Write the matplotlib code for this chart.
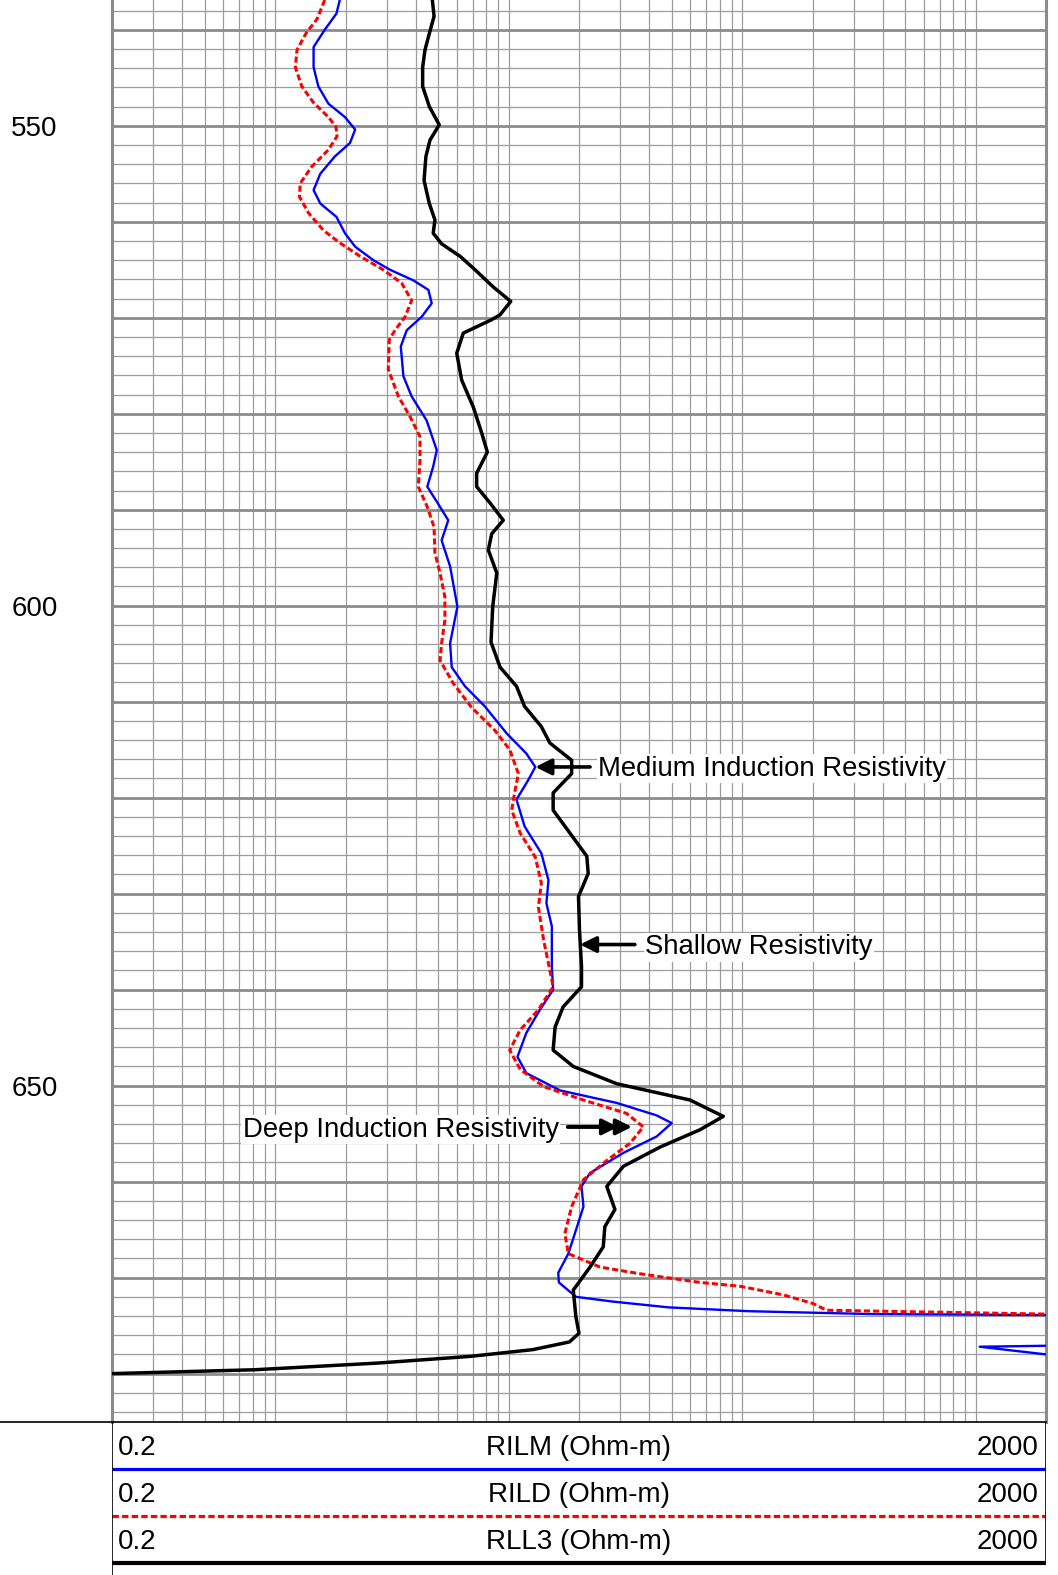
import numpy as np
import matplotlib
matplotlib.use("Agg")
import matplotlib.pyplot as plt
from matplotlib.lines import Line2D
from matplotlib.ticker import MultipleLocator, FuncFormatter, LogLocator, NullFormatter

plt.rcParams["font.family"] = ["Liberation Sans", "DejaVu Sans"]

# --- curves: depth and resistivity (Ohm-m) ---
rll3_depth = [536.9, 538.6, 540.4, 542.1, 543.9, 545.9, 548.0, 549.9, 551.5, 553.2,
              555.7, 558.1, 559.8, 561.2, 562.3, 563.6, 565.0, 566.8, 568.3, 569.7,
              570.2, 571.6, 573.7, 576.5, 579.3, 582.0, 584.0, 586.2, 587.6, 589.3,
              591.1, 592.5, 594.2, 596.6, 600.1, 603.8, 606.4, 608.4, 610.5, 612.6,
              614.3, 616.1, 617.5, 619.5, 621.3, 623.7, 626.1, 627.9, 630.3, 633.8,
              637.6, 639.7, 641.8, 643.9, 646.3, 648.0, 649.8, 651.5, 653.2, 654.6,
              656.4, 658.4, 660.5, 662.9, 664.7, 666.8, 668.9, 671.3, 674.1, 675.8,
              676.7, 677.5, 678.2, 678.9, 679.6, 680.0]
rll3 = [4.71, 4.79, 4.57, 4.38, 4.28, 4.28, 4.57, 5.04, 4.60, 4.42,
        4.34, 4.57, 4.83, 4.75, 5.16, 6.19, 7.17, 8.59, 10.2, 9.18,
        8.46, 6.39, 5.99, 6.29, 7.05, 7.66, 8.10, 7.29, 7.29, 8.32,
        9.48, 8.46, 8.18, 8.89, 8.54, 8.40, 9.18, 10.8, 11.7, 13.8,
        15.0, 18.6, 18.6, 15.5, 15.5, 18.3, 21.6, 21.9, 19.9, 20.1,
        20.5, 20.5, 17.1, 15.8, 15.5, 18.9, 29.0, 59.8, 83.0, 65.9,
        44.5, 31.0, 26.3, 28.5, 25.8, 25.4, 22.3, 18.9, 19.4, 20.0,
        18.2, 12.7, 6.88, 2.76, 0.815, 0.2]

rilm_depth = [536.9, 538.3, 540.0, 541.8, 543.9, 545.9, 547.7, 549.1, 550.4, 551.8,
              553.2, 555.0, 556.7, 558.1, 559.5, 561.2, 562.6, 564.0, 565.0, 566.1,
              567.1, 568.5, 569.9, 571.3, 573.0, 576.1, 578.2, 580.7, 583.8, 585.5,
              587.6, 589.7, 591.1, 593.2, 595.9, 600.1, 603.9, 606.4, 608.4, 610.5,
              613.3, 615.4, 616.8, 618.2, 620.2, 623.0, 625.8, 628.6, 631.0, 633.4,
              637.6, 640.0, 642.1, 644.5, 647.0, 648.7, 650.5, 651.8, 653.1, 653.9,
              655.3, 657.0, 659.1, 660.5, 662.6, 665.4, 667.5, 669.5, 670.5, 672.0,
              672.5, 673.1, 673.5, 673.8, 673.9]
rilm = [1.89, 1.83, 1.63, 1.46, 1.46, 1.53, 1.69, 1.99, 2.20, 2.09,
        1.80, 1.56, 1.46, 1.56, 1.83, 1.99, 2.20, 2.63, 3.10, 3.90,
        4.53, 4.68, 4.24, 3.66, 3.45, 3.54, 3.84, 4.45, 4.92, 4.75,
        4.48, 5.08, 5.51, 5.16, 5.61, 6.03, 5.61, 5.70, 6.50, 7.91,
        9.80, 11.9, 13.0, 12.1, 10.8, 11.7, 13.8, 14.8, 14.5, 15.3,
        15.3, 15.5, 13.6, 11.9, 10.9, 11.9, 16.6, 29.0, 43.0, 49.9,
        43.0, 31.0, 22.3, 20.5, 20.9, 19.2, 18.0, 16.3, 16.4, 19.4,
        28.0, 48.4, 107, 362, 2000]
# short off-scale excursion at the right edge
rilm_tail_depth = [677.1, 677.2, 678.0]
rilm_tail = [2000, 1040, 2000]

rild_depth = [536.9, 538.9, 540.3, 542.1, 543.9, 545.9, 547.6, 549.1, 550.1, 551.1,
              552.5, 554.3, 556.0, 557.4, 559.1, 560.9, 562.2, 563.6, 565.0, 566.4,
              568.2, 569.9, 571.3, 572.3, 575.4, 578.2, 580.3, 582.4, 584.8, 587.6,
              589.7, 591.8, 594.5, 596.6, 599.1, 601.5, 603.9, 605.7, 608.1, 610.6,
              613.0, 615.0, 617.5, 619.5, 621.3, 623.7, 626.2, 628.9, 631.4, 634.8,
              637.6, 639.7, 642.1, 644.2, 646.3, 648.3, 650.1, 651.5, 652.9, 654.3,
              656.0, 657.8, 659.8, 662.6, 665.4, 667.5, 668.9, 669.6, 670.5, 670.9,
              671.8, 672.7, 673.4, 673.8]
rild = [1.63, 1.51, 1.36, 1.24, 1.22, 1.30, 1.46, 1.69, 1.82, 1.84,
        1.69, 1.43, 1.28, 1.27, 1.39, 1.61, 1.89, 2.31, 2.90, 3.48,
        3.84, 3.60, 3.26, 3.08, 3.05, 3.37, 3.78, 4.17, 4.17, 4.10,
        4.48, 4.79, 4.83, 5.08, 5.33, 5.33, 5.16, 5.08, 5.79, 6.94,
        8.73, 10.1, 11.0, 10.6, 10.3, 11.2, 13.0, 13.8, 13.4, 14.1,
        14.9, 15.5, 13.4, 11.2, 10.1, 11.2, 14.1, 20.9, 32.0, 37.7,
        33.1, 26.3, 20.9, 18.6, 17.4, 18.0, 24.6, 36.5, 65.9, 97.9,
        150, 201, 230, 2000]

depth_labels = [550, 600, 650]
header_rows = [("0.2", "RILM (Ohm-m)", "2000"),
               ("0.2", "RILD (Ohm-m)", "2000"),
               ("0.2", "RLL3 (Ohm-m)", "2000")]

W, H = 1058, 1575
fig = plt.figure(figsize=(W / 100, H / 100), dpi=100)
x0, x1 = 112, 1046
track_bot = 1421.6

ax = fig.add_axes([x0 / W, 1 - track_bot / H, (x1 - x0) / W, track_bot / H])
ax.set_xscale("log")
ax.set_xlim(0.2, 2000)
ax.set_ylim(685, 536.9)

ax.xaxis.set_major_locator(LogLocator(base=10, numticks=10))
ax.xaxis.set_minor_locator(LogLocator(base=10, subs=np.arange(2, 10), numticks=20))
ax.xaxis.set_major_formatter(NullFormatter())
ax.xaxis.set_minor_formatter(NullFormatter())
ax.yaxis.set_major_locator(MultipleLocator(10))
ax.yaxis.set_minor_locator(MultipleLocator(2))
ax.yaxis.set_major_formatter(FuncFormatter(lambda v, p: f"{v:.0f}" if round(v) in depth_labels else ""))
ax.tick_params(axis="both", which="both", length=0)
ax.tick_params(axis="y", labelsize=20, pad=39)

ax.grid(True, axis="x", which="both", color="#9c9c9c", lw=0.9)
ax.grid(True, axis="y", which="minor", color="#9c9c9c", lw=0.9)
ax.grid(True, axis="y", which="major", color="#8c8c8c", lw=2.0)
ax.set_axisbelow(True)

for s in ("left", "right"):
    ax.spines[s].set_color("#8c8c8c")
    ax.spines[s].set_linewidth(2.2)
ax.spines["top"].set_visible(False)
ax.spines["bottom"].set_visible(False)

ax.plot(rilm, rilm_depth, color="#0000ff", lw=1.7, zorder=3, solid_joinstyle="round")
ax.plot(rilm_tail, rilm_tail_depth, color="#0000ff", lw=1.7, zorder=3)
ax.plot(rild, rild_depth, color="#ff0000", lw=2.2, ls=(0, (2.0, 1.0)), zorder=4)
ax.plot(rll3, rll3_depth, color="black", lw=2.5, zorder=5, solid_joinstyle="round")

arrow = dict(arrowstyle="-|>", color="black", lw=2.6, mutation_scale=24, shrinkA=0, shrinkB=0)
box = dict(facecolor="white", edgecolor="none", pad=1)
ax.annotate("", xy=(13.0, 616.8), xytext=(22.3, 616.8), arrowprops=arrow, zorder=6)
ax.text(24.1, 617.0, "Medium Induction Resistivity", fontsize=19.8, ha="left", va="center",
        bbox=box, zorder=6)
ax.annotate("", xy=(20.2, 635.3), xytext=(34.7, 635.3), arrowprops=arrow, zorder=6)
ax.text(38.4, 635.6, "Shallow Resistivity", fontsize=19.8, ha="left", va="center",
        bbox=box, zorder=6)
ax.annotate("", xy=(33.7, 654.3), xytext=(17.9, 654.3), arrowprops=arrow, zorder=6)
ax.annotate("", xy=(29.4, 654.3), xytext=(17.9, 654.3), arrowprops=arrow, zorder=6)
ax.text(16.4, 654.6, "Deep Induction Resistivity", fontsize=19.8, ha="right", va="center",
        bbox=box, zorder=6)

# header block with curve scales
axl = fig.add_axes([x0 / W, 0, (x1 - x0) / W, (H - track_bot) / H])
axl.set_xlim(0, 1)
axl.set_ylim(H, track_bot)
axl.axis("off")
text_y = [1448, 1495, 1542]
line_y = [1469, 1516, 1563]
styles = [dict(color="#0000ff", lw=2.3, ls="-"),
          dict(color="#ff0000", lw=2.3, ls=(0, (2.0, 1.0))),
          dict(color="black", lw=3.0, ls="-")]
for (lo, name, hi), ty, ly, st in zip(header_rows, text_y, line_y, styles):
    axl.text(0.006, ty, lo, fontsize=20, ha="left", va="center")
    axl.text(0.5, ty, name, fontsize=20, ha="center", va="center")
    axl.text(0.992, ty, hi, fontsize=20, ha="right", va="center")
    axl.plot([0, 1], [ly, ly], solid_capstyle="butt", **st)
axl.plot([0, 0], [track_bot, H], color="black", lw=1.2)
axl.plot([1, 1], [track_bot, line_y[-1]], color="black", lw=1.2)

fig.add_artist(Line2D([0, x1 / W], [1 - track_bot / H] * 2, color="black", lw=1.2))

fig.savefig("out.png", dpi=100)
